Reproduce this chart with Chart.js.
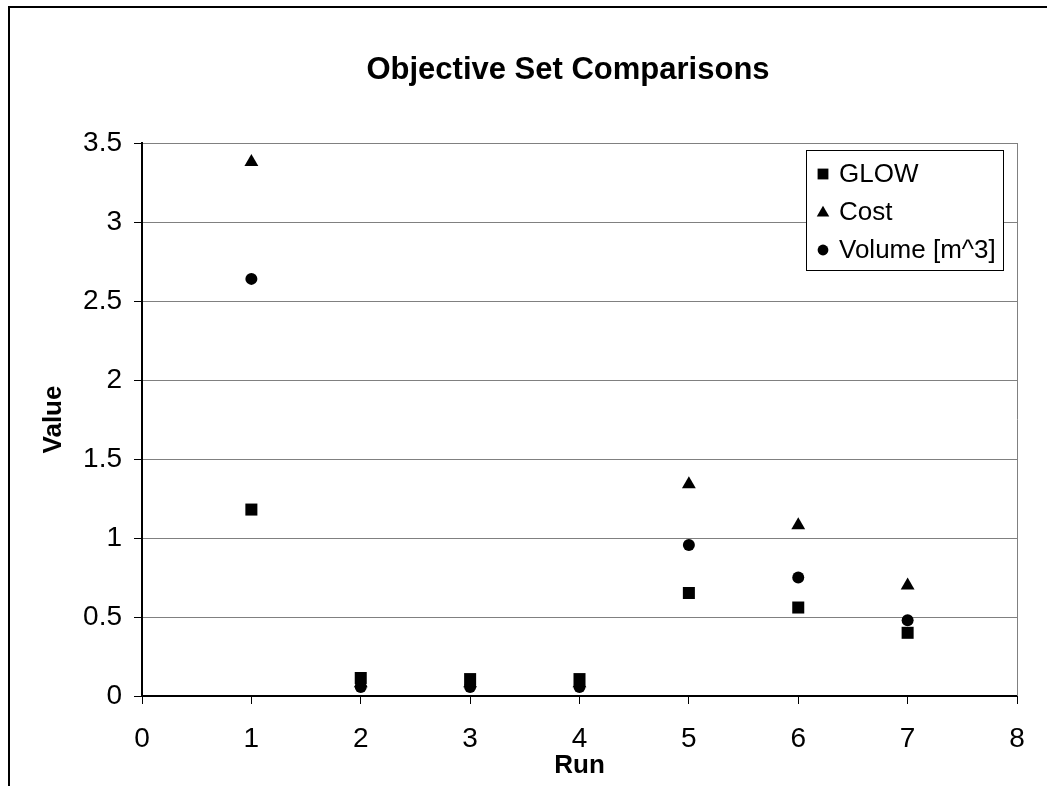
<!DOCTYPE html>
<html lang="en">
<head>
  <meta charset="UTF-8" />
  <title>Objective Set Comparisons</title>
  <script src="https://cdn.jsdelivr.net/npm/chart.js@4/dist/chart.umd.min.js"></script>
  <style>
    * {
      box-sizing: border-box;
    }

    body {
      margin: 0;
      background: #fff;
      overflow: hidden;
    }

    #wrap {
      width: 1047px;
      height: 786px;
      position: relative;
    }
  </style>
</head>
<body>
  <div id="wrap"><canvas id="runChart"></canvas></div>

  <script>
    // objective values per run
    const runs = [1, 2, 3, 4, 5, 6, 7];
    const glow = [1.18, 0.114, 0.107, 0.107, 0.652, 0.56, 0.40];
    const cost = [3.38, 0.08, 0.08, 0.08, 1.34, 1.08, 0.70];
    const volume = [2.64, 0.057, 0.057, 0.057, 0.956, 0.75, 0.48];

    const seriesNames = ["GLOW", "Cost", "Volume [m^3]"];
    const xTicks = [0, 1, 2, 3, 4, 5, 6, 7, 8];
    const yTicks = [0, 0.5, 1, 1.5, 2, 2.5, 3, 3.5];

    const FONT = "'Liberation Sans', Arial, sans-serif";

    const toPoints = (vals) => runs.map((r, i) => ({ x: r, y: vals[i] }));

    const markers = [
      { style: "rect", radius: 8.5 },
      { style: "triangle", radius: 8 },
      { style: "circle", radius: 6 }
    ];

    const makeSet = (label, vals, m) => ({
      label,
      data: toPoints(vals),
      pointStyle: m.style,
      pointRadius: m.radius,
      pointHoverRadius: m.radius,
      backgroundColor: "#000",
      borderColor: "#000",
      borderWidth: 0,
      showLine: false
    });

    // frame, title, right edge of the plot and the boxed legend
    const decorations = {
      id: "decorations",
      beforeDraw(chart) {
        const { ctx } = chart;
        ctx.save();
        ctx.fillStyle = "#fff";
        ctx.fillRect(0, 0, chart.width, chart.height);
        ctx.restore();
      },
      afterDatasetsDraw(chart) {
        const { ctx, chartArea: a } = chart;
        ctx.save();

        // right edge of the plot area
        ctx.strokeStyle = "#808080";
        ctx.lineWidth = 1;
        ctx.beginPath();
        ctx.moveTo(Math.round(a.right) + 0.5, a.top);
        ctx.lineTo(Math.round(a.right) + 0.5, a.bottom);
        ctx.stroke();

        // outer frame (runs off the right and bottom)
        ctx.strokeStyle = "#000";
        ctx.lineWidth = 2;
        ctx.strokeRect(9, 7, chart.width + 50, chart.height + 50);

        // title
        ctx.fillStyle = "#000";
        ctx.font = "bold 31px " + FONT;
        ctx.textAlign = "center";
        ctx.textBaseline = "middle";
        ctx.fillText("Objective Set Comparisons", 568, 70);

        // legend box
        const lx = 806, ly = 150, lw = 197, lh = 120;
        ctx.fillStyle = "#fff";
        ctx.fillRect(lx, ly, lw, lh);
        ctx.strokeStyle = "#000";
        ctx.lineWidth = 1;
        ctx.strokeRect(lx + 0.5, ly + 0.5, lw, lh);

        ctx.font = "26px " + FONT;
        ctx.textAlign = "left";
        ctx.textBaseline = "middle";
        seriesNames.forEach((name, i) => {
          const y = 174 + i * 38;
          ctx.fillStyle = "#000";
          ctx.strokeStyle = "#000";
          Chart.helpers.drawPoint(ctx, {
            pointStyle: markers[i].style,
            radius: markers[i].radius * 0.9,
            borderWidth: 0,
            rotation: 0
          }, 823, i === 1 ? y + 1 : y);
          ctx.fillText(name, 839, y + 1);
        });

        ctx.restore();
      }
    };

    new Chart(document.getElementById("runChart"), {
      type: "scatter",
      data: {
        datasets: [
          makeSet(seriesNames[0], glow, markers[0]),
          makeSet(seriesNames[1], cost, markers[1]),
          makeSet(seriesNames[2], volume, markers[2])
        ]
      },
      options: {
        responsive: true,
        maintainAspectRatio: false,
        animation: false,
        layout: { padding: { top: 143, right: 30, left: 0, bottom: 0 } },
        plugins: {
          legend: { display: false },
          title: { display: false },
          tooltip: { enabled: false }
        },
        scales: {
          x: {
            type: "linear",
            min: 0,
            max: 8,
            afterFit: (s) => { s.height = 90; },
            afterBuildTicks: (s) => { s.ticks = xTicks.map(v => ({ value: v })); },
            grid: {
              drawOnChartArea: false,
              drawTicks: true,
              tickLength: 8,
              tickColor: "#000"
            },
            border: { display: true, color: "#000", width: 2 },
            ticks: {
              color: "#000",
              padding: 18,
              maxRotation: 0,
              callback: (v) => String(v),
              font: { family: FONT, size: 28 }
            },
            title: {
              display: true,
              text: "Run",
              color: "#000",
              padding: { top: 0, bottom: 5 },
              font: { family: FONT, size: 26, weight: "bold" }
            }
          },
          y: {
            type: "linear",
            min: 0,
            max: 3.5,
            afterFit: (s) => { s.width = 142; },
            afterBuildTicks: (s) => { s.ticks = yTicks.map(v => ({ value: v })); },
            grid: {
              color: "#808080",
              lineWidth: 1,
              drawTicks: true,
              tickLength: 8,
              tickColor: "#000"
            },
            border: { display: true, color: "#000", width: 2 },
            ticks: {
              color: "#000",
              padding: 12,
              callback: (v) => String(v),
              font: { family: FONT, size: 28 }
            },
            title: {
              display: true,
              text: "Value",
              color: "#000",
              padding: { top: 38, bottom: 0 },
              font: { family: FONT, size: 26, weight: "bold" }
            }
          }
        }
      },
      plugins: [decorations]
    });
  </script>
</body>
</html>
